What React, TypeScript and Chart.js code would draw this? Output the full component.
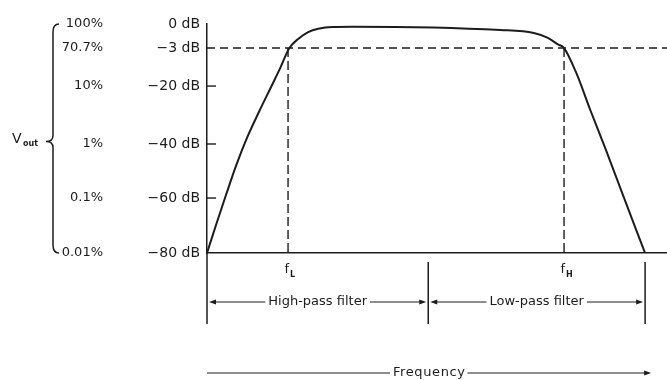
import React, { useEffect, useRef } from 'react';
import { Chart, registerables, LinearScale } from 'chart.js';

// ---- data ----
// relative frequency (0 = left end of plot, 100 = right end of passband curve)
const freq = [0, 2.06, 4.35, 6.64, 9.15, 11.9, 14.6, 16.7, 18.8, 20.8, 23.1, 25.4, 28.6, 33.2, 67.0, 74.6, 77.8, 80.1, 81.5, 84.2, 87.6, 91.1, 94.5, 97.9, 100];
const gainDb = [-80, -69.8, -58.8, -48.0, -37.8, -28.8, -20.4, -12.0, -3, -1.87, -1.01, -0.59, -0.36, -0.33, -0.75, -1.12, -1.73, -2.54, -3, -13.7, -28.7, -42.4, -57.0, -71.3, -80];

const yTickValues = [0, -3, -20, -40, -60, -80];
const dbLabels = ['0 dB', '\u22123 dB', '\u221220 dB', '\u221240 dB', '\u221260 dB', '\u221280 dB'];
const pctLabels = ['100%', '70.7%', '10%', '1%', '0.1%', '0.01%'];
const innerTicks = [-20, -40, -60];
const halfPowerDb = -3;
const floorDb = -80;
const cutoffFreqs = [18.5, 81.5];
const cutoffSubs = ['L', 'H'];
const bandEdges = [0, 50.5, 100];
const bandNames = ['High-pass filter', 'Low-pass filter'];
const freqMax = 105;
const yTitleMain = 'V';
const yTitleSub = 'out';
const xTitle = 'Frequency';

// uneven (hand drawn) spacing of the dB axis: value -> fraction of axis height
const Y_WARP: [number, number][] = [[-80, 0], [-60, 0.24], [-40, 0.476], [-20, 0.729], [-3, 0.895], [0, 1]];

function toDec(v: number) {
  const s = Y_WARP;
  let i = 0;
  if (v <= s[0][0]) i = 0;
  else if (v >= s[s.length - 1][0]) i = s.length - 2;
  else while (i < s.length - 2 && v > s[i + 1][0]) i++;
  const [v0, d0] = s[i];
  const [v1, d1] = s[i + 1];
  return d0 + ((v - v0) / (v1 - v0)) * (d1 - d0);
}
function fromDec(d: number) {
  const s = Y_WARP;
  let i = 0;
  if (d <= s[0][1]) i = 0;
  else if (d >= s[s.length - 1][1]) i = s.length - 2;
  else while (i < s.length - 2 && d > s[i + 1][1]) i++;
  const [v0, d0] = s[i];
  const [v1, d1] = s[i + 1];
  return v0 + ((d - d0) / (d1 - d0)) * (v1 - v0);
}

class WarpScale extends LinearScale {
  static id = 'warp';
  getPixelForValue(value: any) {
    if (value === null || value === undefined || isNaN(value)) return NaN;
    return this.getPixelForDecimal(toDec(value));
  }
  getValueForPixel(pixel: number) {
    return fromDec(this.getDecimalForPixel(pixel));
  }
}

Chart.register(...registerables, WarpScale as any);

const INK = '#1c1c1c';
const FONT = '"DejaVu Sans", sans-serif';

function line(ctx: CanvasRenderingContext2D, x1: number, y1: number, x2: number, y2: number) {
  ctx.beginPath();
  ctx.moveTo(x1, y1);
  ctx.lineTo(x2, y2);
  ctx.stroke();
}
function arrowHead(ctx: CanvasRenderingContext2D, tipX: number, y: number, dir: number) {
  ctx.beginPath();
  ctx.moveTo(tipX, y);
  ctx.lineTo(tipX - dir * 7, y - 2.5);
  ctx.lineTo(tipX - dir * 7, y + 2.5);
  ctx.closePath();
  ctx.fill();
}

const annotations = {
  id: 'annotations',
  afterDraw(chart: any) {
    const { ctx, scales } = chart;
    const x = scales.x;
    const y = scales.y;
    ctx.save();
    ctx.strokeStyle = INK;
    ctx.fillStyle = INK;

    // inward tick marks
    ctx.lineWidth = 1.4;
    innerTicks.forEach((v) => {
      const py = y.getPixelForValue(v);
      line(ctx, x.left, py, x.left + 9, py);
    });

    // percentage labels
    ctx.font = `13px ${FONT}`;
    ctx.textAlign = 'right';
    ctx.textBaseline = 'middle';
    pctLabels.forEach((t, i) => {
      ctx.fillText(t, 103, y.getPixelForValue(yTickValues[i]));
    });

    // brace
    const top = y.getPixelForValue(yTickValues[0]);
    const bot = y.getPixelForValue(yTickValues[yTickValues.length - 1]);
    const mid = (top + bot) / 2 + 3;
    const bx = 53;
    ctx.lineWidth = 1.5;
    ctx.beginPath();
    ctx.moveTo(bx + 6, top);
    ctx.quadraticCurveTo(bx, top, bx, top + 8);
    ctx.lineTo(bx, mid - 6);
    ctx.quadraticCurveTo(bx, mid, bx - 7, mid);
    ctx.quadraticCurveTo(bx, mid, bx, mid + 6);
    ctx.lineTo(bx, bot - 8);
    ctx.quadraticCurveTo(bx, bot, bx + 6, bot);
    ctx.stroke();

    // V_out
    ctx.textAlign = 'left';
    ctx.textBaseline = 'alphabetic';
    ctx.font = `14px ${FONT}`;
    ctx.fillText(yTitleMain, 12, mid + 1);
    ctx.font = `bold 8px ${FONT}`;
    ctx.fillText(yTitleSub, 23, mid + 4);

    // cutoff labels f_L, f_H
    cutoffFreqs.forEach((f, i) => {
      const px = x.getPixelForValue(f);
      ctx.font = `13px ${FONT}`;
      ctx.textAlign = 'right';
      ctx.fillText('f', px + 1, y.bottom + 20);
      ctx.font = `bold 8px ${FONT}`;
      ctx.textAlign = 'left';
      ctx.fillText(cutoffSubs[i], px + 2, y.bottom + 24);
    });

    // band boundary lines
    ctx.lineWidth = 1.5;
    bandEdges.forEach((e, i) => {
      const px = x.getPixelForValue(e);
      line(ctx, px, i === 0 ? y.bottom : y.bottom + 9, px, y.bottom + 71);
    });

    // band arrows + labels
    const rowY = y.bottom + 49;
    ctx.font = `13px ${FONT}`;
    ctx.textAlign = 'center';
    ctx.textBaseline = 'middle';
    ctx.lineWidth = 1;
    bandNames.forEach((name, i) => {
      const a = x.getPixelForValue(bandEdges[i]) + 2;
      const b = x.getPixelForValue(bandEdges[i + 1]) - 2;
      const c = (a + b) / 2;
      const w = ctx.measureText(name).width;
      line(ctx, a + 4, rowY, c - w / 2 - 3, rowY);
      line(ctx, c + w / 2 + 3, rowY, b - 4, rowY);
      arrowHead(ctx, a, rowY, -1);
      arrowHead(ctx, b, rowY, 1);
      ctx.fillText(name, c, rowY);
    });

    // frequency axis arrow
    const fy = y.bottom + 120;
    const fx0 = x.left;
    const fx1 = x.getPixelForValue(bandEdges[bandEdges.length - 1]) + 6;
    const fc = x.getPixelForValue(bandEdges[1]) + 1;
    (ctx as any).letterSpacing = '0.6px';
    const fw = ctx.measureText(xTitle).width;
    ctx.fillText(xTitle, fc, fy);
    (ctx as any).letterSpacing = '0px';
    line(ctx, fx0, fy, fc - fw / 2 - 3, fy);
    line(ctx, fc + fw / 2 + 2, fy, fx1 - 4, fy);
    arrowHead(ctx, fx1, fy, 1);

    ctx.restore();
  },
};

export default function App() {
  const ref = useRef<HTMLCanvasElement | null>(null);
  useEffect(() => {
    const canvas = ref.current;
    if (!canvas) return;
    const chart = new Chart(canvas, {
      type: 'line',
      data: {
        datasets: [
          {
            label: 'Response',
            data: freq.map((f, i) => ({ x: f, y: gainDb[i] })),
            borderColor: INK,
            borderWidth: 2,
            pointRadius: 0,
            cubicInterpolationMode: 'monotone',
            fill: false,
          },
          {
            label: '-3 dB',
            data: [
              { x: 0, y: halfPowerDb },
              { x: freqMax, y: halfPowerDb },
            ],
            borderColor: INK,
            borderWidth: 1.4,
            borderDash: [8, 5],
            pointRadius: 0,
            fill: false,
          },
          ...cutoffFreqs.map((f) => ({
            label: 'cutoff',
            data: [
              { x: f, y: halfPowerDb },
              { x: f, y: floorDb },
            ],
            borderColor: INK,
            borderWidth: 1.4,
            borderDash: [9, 4],
            pointRadius: 0,
            fill: false,
          })),
        ],
      },
      options: {
        animation: false,
        responsive: false,
        layout: { padding: { top: 24, left: 0, right: 0, bottom: 127 } },
        plugins: { legend: { display: false }, tooltip: { enabled: false } },
        scales: {
          x: {
            type: 'linear',
            min: 0,
            max: freqMax,
            grid: { display: false, drawTicks: false },
            ticks: { display: false },
            border: { display: true, color: INK, width: 1.5 },
            afterFit: (s: any) => {
              s.height = 0;
            },
          },
          y: {
            type: 'warp' as any,
            min: floorDb,
            max: 0,
            afterBuildTicks: (s: any) => {
              s.ticks = yTickValues.map((v) => ({ value: v }));
            },
            ticks: {
              autoSkip: false,
              padding: 7,
              color: INK,
              font: { family: FONT, size: 14 },
              callback: (v: any) => dbLabels[yTickValues.indexOf(Number(v))],
            },
            grid: { display: false, drawTicks: false },
            border: { display: true, color: INK, width: 1.5 },
            afterFit: (s: any) => {
              s.width = 207;
            },
          },
        },
      } as any,
      plugins: [annotations],
    });
    return () => chart.destroy();
  }, []);
  return (
    <div style={{ position: 'fixed', left: 0, top: 0, width: 667, height: 380, background: '#fff' }}>
      <canvas ref={ref} width={667} height={380} style={{ display: 'block' }} />
    </div>
  );
}
